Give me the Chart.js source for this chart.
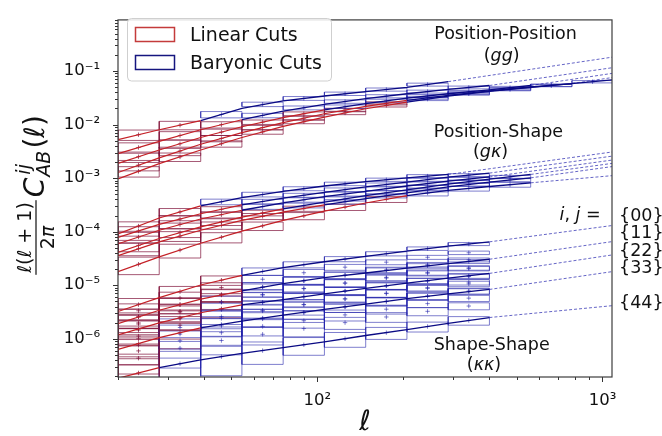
<!DOCTYPE html>
<html>
<head>
<meta charset="utf-8">
<script src="https://cdn.jsdelivr.net/npm/chart.js@4.4.1/dist/chart.umd.min.js"></script>
<style>
  html, body { margin: 0; padding: 0; background: #fff; }
</style>
</head>
<body>
<canvas id="clsChart" width="662" height="436"></canvas>
<script>
// multipole bins (log spaced) and axis limits
const lEdges = [20, 27.9, 39.0, 54.4, 75.9, 105.9, 147.8, 206.2, 287.7, 401.4, 560.1, 781.5, 1090];
const lCentres = [23.6, 33.0, 46.1, 64.3, 89.7, 125.1, 174.6, 243.6, 339.8, 474.1, 661.6, 923.0];
const lMin = 20, lMax = 1080;
const clMin = 1.93e-7, clMax = 0.9;

const xTickVals = [100, 1000];
const xTickText = ['10²', '10³'];
const yTickVals = [1e-6, 1e-5, 1e-4, 1e-3, 1e-2, 1e-1];
const yTickText = ['10⁻⁶', '10⁻⁵', '10⁻⁴', '10⁻³', '10⁻²', '10⁻¹'];

// position-position (gg): theory at bin edges, data at bin centres
const ggLine0 = [5.22e-3, 8.0e-3, 1.18e-2, 2.01e-2, 2.77e-2, 3.41e-2, 4.13e-2, 4.93e-2, 6.33e-2];
const ggMid0 = [6.47e-3, 9.73e-3, 1.54e-2, 2.39e-2, 3.08e-2, 3.76e-2, 4.51e-2, 5.58e-2];
const ggLine1 = [2.86e-3, 4.86e-3, 8.0e-3, 1.23e-2, 1.78e-2, 2.37e-2, 3.05e-2, 3.76e-2, 4.53e-2, 5.36e-2];
const ggMid1 = [3.73e-3, 6.24e-3, 9.94e-3, 1.48e-2, 2.05e-2, 2.69e-2, 3.38e-2, 4.13e-2, 4.93e-2];
const ggLine2 = [1.88e-3, 3.34e-3, 5.74e-3, 9.09e-3, 1.35e-2, 1.88e-2, 2.47e-2, 3.12e-2, 3.76e-2, 4.43e-2, 5.36e-2];
const ggMid2 = [2.51e-3, 4.37e-3, 7.22e-3, 1.11e-2, 1.59e-2, 2.16e-2, 2.78e-2, 3.42e-2, 4.08e-2, 4.88e-2];
const ggLine3 = [1.27e-3, 2.39e-3, 4.29e-3, 7.07e-3, 1.09e-2, 1.59e-2, 2.18e-2, 2.84e-2, 3.52e-2, 4.26e-2, 5.03e-2, 5.82e-2];
const ggMid3 = [1.75e-3, 3.20e-3, 5.50e-3, 8.80e-3, 1.32e-2, 1.87e-2, 2.49e-2, 3.17e-2, 3.87e-2, 4.63e-2, 5.41e-2];
const ggLine4 = [9.65e-4, 1.86e-3, 3.34e-3, 5.74e-3, 9.27e-3, 1.38e-2, 1.97e-2, 2.63e-2, 3.38e-2, 4.17e-2, 4.93e-2, 5.82e-2, 6.83e-2];
const ggMid4 = [1.34e-3, 2.49e-3, 4.37e-3, 7.29e-3, 1.13e-2, 1.65e-2, 2.28e-2, 2.99e-2, 3.76e-2, 4.53e-2, 5.36e-2, 6.31e-2];
const ggEnd = [0.181, 0.115, 9.02e-2, 7.54e-2, null];
const ggLinCut = [2, 3, 5, 7, 7];
const ggBarCut = [8, 9, 10, 11, 12];
const ggErr = [0.22, 0.18, 0.135, 0.095, 0.083, 0.073, 0.067, 0.063, 0.06, 0.058, 0.052, 0.05];

// position-shape (g kappa)
const gkLine0 = [9.09e-5, 1.80e-4, 3.03e-4, 4.31e-4, 5.65e-4, 7.12e-4, 8.58e-4, 1.01e-3, 1.17e-3];
const gkMid0 = [1.27e-4, 2.33e-4, 3.61e-4, 4.94e-4, 6.35e-4, 7.81e-4, 9.33e-4, 1.09e-3];
const gkLine1 = [7.78e-5, 1.37e-4, 2.16e-4, 3.15e-4, 4.22e-4, 5.42e-4, 6.83e-4, 8.41e-4, 1.04e-3, 1.24e-3];
const gkMid1 = [1.03e-4, 1.72e-4, 2.61e-4, 3.65e-4, 4.79e-4, 6.09e-4, 7.57e-4, 9.33e-4, 1.14e-3];
const gkLine2 = [5.93e-5, 1.06e-4, 1.72e-4, 2.51e-4, 3.43e-4, 4.49e-4, 5.65e-4, 7.12e-4, 8.77e-4, 1.05e-3];
const gkMid2 = [7.94e-5, 1.36e-4, 2.07e-4, 2.93e-4, 3.92e-4, 5.04e-4, 6.35e-4, 7.89e-4, 9.63e-4];
const gkLine3 = [4.11e-5, 7.46e-5, 1.23e-4, 1.87e-4, 2.67e-4, 3.57e-4, 4.69e-4, 6.02e-4, 7.73e-4, 9.53e-4, 1.17e-3];
const gkMid3 = [5.54e-5, 9.59e-5, 1.52e-4, 2.24e-4, 3.09e-4, 4.09e-4, 5.32e-4, 6.83e-4, 8.58e-4, 1.05e-3];
const gkLine4 = [3.57e-5, 6.45e-5, 1.06e-4, 1.62e-4, 2.31e-4, 3.15e-4, 4.14e-4, 5.32e-4, 6.83e-4, 8.41e-4, 1.01e-3];
const gkMid4 = [4.80e-5, 8.28e-5, 1.31e-4, 1.93e-4, 2.69e-4, 3.61e-4, 4.69e-4, 6.02e-4, 7.57e-4, 9.23e-4];
const gkLine5 = [1.79e-5, 3.38e-5, 6.06e-5, 1.02e-4, 1.62e-4, 2.41e-4, 3.43e-4, 4.69e-4, 5.90e-4, 6.97e-4, 8.16e-4];
const gkMid5 = [2.46e-5, 4.52e-5, 7.86e-5, 1.28e-4, 1.97e-4, 2.87e-4, 4.01e-4, 5.26e-4, 6.41e-4, 7.54e-4];
const gkEnd = [3.07e-3, 2.57e-3, 2.17e-3, 1.88e-3, 1.64e-3, 1.11e-3];
const gkLinCut = [2, 3, 3, 4, 5, 7];
const gkBarCut = [8, 9, 9, 10, 10, 10];
const gkErr = [0.2, 0.16, 0.12, 0.1, 0.085, 0.075, 0.07, 0.065, 0.06, 0.058, 0.055, 0.05];
const gkErrScale = [1, 1, 1.1, 1.2, 1.3, 1.8];

// shape-shape (kappa kappa): theory for the auto spectra only
const kkLine00 = [3.22e-6, 5.85e-6, 1.01e-5, 1.53e-5, 2.13e-5, 2.74e-5, 3.45e-5, 4.34e-5, 5.35e-5, 6.45e-5];
const kkLine11 = [1.92e-6, 3.40e-6, 5.49e-6, 7.83e-6, 1.07e-5, 1.38e-5, 1.69e-5, 2.09e-5, 2.52e-5, 3.05e-5];
const kkLine22 = [1.18e-6, 1.98e-6, 3.06e-6, 4.28e-6, 5.38e-6, 6.91e-6, 8.70e-6, 1.09e-5, 1.35e-5, 1.66e-5];
const kkLine33 = [6.32e-7, 1.05e-6, 1.60e-6, 2.14e-6, 2.76e-6, 3.54e-6, 4.45e-6, 5.61e-6, 6.91e-6, 8.33e-6];
const kkLine44 = [1.83e-7, 2.89e-7, 4.04e-7, 5.31e-7, 6.82e-7, 8.75e-7, 1.15e-6, 1.48e-6, 1.93e-6, 2.49e-6];
const kkAutoPairs = ['00', '11', '22', '33', '44'];
const kkEnd = [1.30e-4, 6.51e-5, 3.67e-5, 1.79e-5, 4.14e-6];

const kkMid00 = [4.34e-6, 7.58e-6, 1.24e-5, 1.81e-5, 2.42e-5, 3.08e-5, 3.87e-5, 4.82e-5, 5.87e-5];
const kkMid01 = [3.33e-6, 5.75e-6, 9.02e-6, 1.29e-5, 1.71e-5, 2.17e-5, 2.69e-5, 3.32e-5, 4.03e-5];
const kkMid02 = [2.58e-6, 4.35e-6, 6.70e-6, 9.29e-6, 1.21e-5, 1.54e-5, 1.94e-5, 2.42e-5, 2.97e-5];
const kkMid03 = [1.88e-6, 3.16e-6, 4.80e-6, 6.63e-6, 8.70e-6, 1.10e-5, 1.40e-5, 1.73e-5, 2.11e-5];
const kkMid04 = [1.0e-6, 1.62e-6, 2.40e-6, 3.30e-6, 4.32e-6, 5.55e-6, 7.09e-6, 9.02e-6, 1.14e-5];
const kkMid11 = [2.55e-6, 4.32e-6, 6.55e-6, 9.16e-6, 1.21e-5, 1.53e-5, 1.88e-5, 2.30e-5, 2.77e-5];
const kkMid12 = [1.98e-6, 3.26e-6, 4.87e-6, 6.63e-6, 8.61e-6, 1.09e-5, 1.36e-5, 1.67e-5, 2.04e-5];
const kkMid13 = [1.45e-6, 2.37e-6, 3.48e-6, 4.73e-6, 6.16e-6, 7.80e-6, 9.69e-6, 1.19e-5, 1.45e-5];
const kkMid14 = [7.57e-7, 1.22e-6, 1.75e-6, 2.35e-6, 3.06e-6, 3.91e-6, 4.95e-6, 6.23e-6, 7.80e-6];
const kkMid22 = [1.53e-6, 2.46e-6, 3.62e-6, 4.80e-6, 6.10e-6, 7.75e-6, 9.75e-6, 1.21e-5, 1.50e-5];
const kkMid23 = [1.12e-6, 1.79e-6, 2.59e-6, 3.41e-6, 4.36e-6, 5.55e-6, 6.98e-6, 8.70e-6, 1.06e-5];
const kkMid24 = [5.93e-7, 9.16e-7, 1.30e-6, 1.70e-6, 2.17e-6, 2.79e-6, 3.56e-6, 4.53e-6, 5.73e-6];
const kkMid33 = [8.16e-7, 1.30e-6, 1.85e-6, 2.43e-6, 3.13e-6, 3.97e-6, 5.00e-6, 6.23e-6, 7.59e-6];
const kkMid34 = [4.34e-7, 6.67e-7, 9.27e-7, 1.21e-6, 1.55e-6, 2.00e-6, 2.55e-6, 3.25e-6, 4.08e-6];
const kkMid44 = [2.30e-7, 3.42e-7, 4.63e-7, 6.01e-7, 7.72e-7, 1.0e-6, 1.30e-6, 1.69e-6, 2.19e-6];
const kkPairs = ['00', '01', '02', '03', '04', '11', '12', '13', '14', '22', '23', '24', '33', '34', '44'];
const kkLinCut = [3, 3, 3, 2, 1, 3, 3, 2, 1, 3, 2, 1, 2, 1, 1];
const kkBarCut = 9;
const kkErr = [0.30, 0.25, 0.2, 0.16, 0.13, 0.11, 0.09, 0.075, 0.065];
const kkErrScale = [1, 1.15, 1.3, 1.5, 1.8, 1.3, 1.45, 1.6, 1.9, 1.6, 1.8, 2.1, 2.0, 2.3, 2.8];

const RED_LINE = '#c42026';
const BLUE_LINE = '#0a0a84';
const RED_BOX = 'rgba(128, 18, 58, 0.7)';
const BLUE_BOX = 'rgba(35, 35, 170, 0.58)';
const DASH_LINE = 'rgba(25, 25, 170, 0.75)';
const FONT = '"DejaVu Sans", sans-serif';

const datasets = [];

function edgeSegment(vals, from, to) {
  const pts = [];
  for (let k = from; k <= to; k++) pts.push({ x: lEdges[k], y: vals[k] });
  return pts;
}

// outline of each error box, a null point between boxes breaks the path
function boxOutlines(mids, errs, scale, from, to) {
  const pts = [];
  for (let k = from; k < to; k++) {
    const s = errs[k] * scale;
    const lo = mids[k] * (1 - s), hi = mids[k] * (1 + s);
    const x0 = lEdges[k], x1 = lEdges[k + 1];
    pts.push({ x: x0, y: lo }, { x: x1, y: lo }, { x: x1, y: hi }, { x: x0, y: hi }, { x: x0, y: lo }, { x: x0, y: null });
  }
  return pts;
}

function addSpectrum(line, mids, end, lin, bar, errs, scale) {
  const red = Math.min(lin, bar);
  if (red > 0) {
    datasets.push({ data: boxOutlines(mids, errs, scale, 0, red), borderColor: RED_BOX, borderWidth: 1, order: 3 });
  }
  if (bar > lin) {
    datasets.push({ data: boxOutlines(mids, errs, scale, lin, bar), borderColor: BLUE_BOX, borderWidth: 1, order: 3 });
  }
  const used = mids.slice(0, bar);
  datasets.push({
    data: used.map((v, k) => ({ x: lCentres[k], y: v })),
    showLine: false, pointStyle: 'cross', pointRadius: 2.2, pointBorderWidth: 1,
    pointBorderColor: used.map((v, k) => (k < lin ? RED_BOX : BLUE_BOX)), order: 2
  });
  if (!line) return;
  datasets.push({ data: edgeSegment(line, 0, red), borderColor: RED_LINE, borderWidth: 1.2, order: 0 });
  if (bar > lin) {
    datasets.push({ data: edgeSegment(line, lin, bar), borderColor: BLUE_LINE, borderWidth: 1.3, order: 0 });
  }
  if (end != null) {
    datasets.push({
      data: [{ x: lEdges[bar], y: line[bar] }, { x: lMax, y: end }],
      borderColor: DASH_LINE, borderWidth: 0.9, borderDash: [3, 2], order: 1
    });
  }
}

const ggLines = [ggLine0, ggLine1, ggLine2, ggLine3, ggLine4];
const ggMids = [ggMid0, ggMid1, ggMid2, ggMid3, ggMid4];
ggLines.forEach((line, i) => addSpectrum(line, ggMids[i], ggEnd[i], ggLinCut[i], ggBarCut[i], ggErr, 1));

const gkLines = [gkLine0, gkLine1, gkLine2, gkLine3, gkLine4, gkLine5];
const gkMids = [gkMid0, gkMid1, gkMid2, gkMid3, gkMid4, gkMid5];
gkLines.forEach((line, i) => addSpectrum(line, gkMids[i], gkEnd[i], gkLinCut[i], gkBarCut[i], gkErr, gkErrScale[i]));

const kkAutoLines = [kkLine00, kkLine11, kkLine22, kkLine33, kkLine44];
const kkMids = [kkMid00, kkMid01, kkMid02, kkMid03, kkMid04, kkMid11, kkMid12, kkMid13, kkMid14,
                kkMid22, kkMid23, kkMid24, kkMid33, kkMid34, kkMid44];
kkPairs.forEach((p, i) => {
  const a = kkAutoPairs.indexOf(p);
  const line = a >= 0 ? kkAutoLines[a] : null;
  const end = a >= 0 ? kkEnd[a] : null;
  addSpectrum(line, kkMids[i], end, kkLinCut[i], kkBarCut, kkErr, kkErrScale[i]);
});

// spines and matplotlib-style outward ticks
const axesFrame = {
  id: 'axesFrame',
  afterDatasetsDraw(chart) {
    const { ctx, chartArea: a, scales: { x, y } } = chart;
    ctx.save();
    ctx.strokeStyle = '#333';
    ctx.lineWidth = 1;
    ctx.beginPath();
    for (let d = 1; d <= 3; d++) {
      for (let m = 1; m <= 9; m++) {
        const v = m * Math.pow(10, d);
        if (v < lMin || v > lMax) continue;
        const px = Math.round(x.getPixelForValue(v)) + 0.5;
        const len = m === 1 ? 5 : 3;
        ctx.moveTo(px, a.bottom);
        ctx.lineTo(px, a.bottom + len);
      }
    }
    for (let d = -7; d <= -1; d++) {
      for (let m = 1; m <= 9; m++) {
        const v = m * Math.pow(10, d);
        if (v < clMin || v > clMax) continue;
        const py = Math.round(y.getPixelForValue(v)) + 0.5;
        const len = m === 1 ? 5 : 3;
        ctx.moveTo(a.left, py);
        ctx.lineTo(a.left - len, py);
      }
    }
    ctx.stroke();
    ctx.strokeStyle = '#3c3c3c';
    ctx.lineWidth = 1.2;
    ctx.strokeRect(a.left, a.top, a.right - a.left, a.bottom - a.top);
    ctx.restore();
  }
};

function drawRuns(ctx, runs, x, y, align) {
  let w = 0;
  runs.forEach(r => { ctx.font = r[1]; w += ctx.measureText(r[0]).width; });
  let cx = align === 'right' ? x - w : align === 'left' ? x : x - w / 2;
  ctx.textAlign = 'left';
  runs.forEach(r => { ctx.font = r[1]; ctx.fillText(r[0], cx, y); cx += ctx.measureText(r[0]).width; });
  return w;
}

const labels = {
  id: 'labels',
  afterDraw(chart) {
    const ctx = chart.ctx;
    const up = `17.5px ${FONT}`, it = `italic 17.5px ${FONT}`;
    ctx.save();
    ctx.fillStyle = '#111';
    ctx.textBaseline = 'alphabetic';

    // legend
    ctx.beginPath();
    ctx.roundRect(127.5, 18.5, 204, 62.5, 4);
    ctx.fillStyle = 'rgba(255,255,255,0.85)';
    ctx.fill();
    ctx.strokeStyle = '#cfcfcf';
    ctx.lineWidth = 1;
    ctx.stroke();
    ctx.lineWidth = 1.5;
    ctx.strokeStyle = '#c43b3b';
    ctx.strokeRect(135.5, 27.5, 39, 14);
    ctx.strokeStyle = '#15157f';
    ctx.strokeRect(135.5, 55.5, 39, 14);
    ctx.fillStyle = '#111';
    ctx.font = `19px ${FONT}`;
    ctx.textAlign = 'left';
    ctx.fillText('Linear Cuts', 190, 41.3);
    ctx.fillText('Baryonic Cuts', 190, 69.2);

    // probe annotations
    drawRuns(ctx, [['Position-Position', up]], 505.5, 39);
    drawRuns(ctx, [['(', up], ['gg', it], [')', up]], 501.7, 61);
    drawRuns(ctx, [['Position-Shape', up]], 498.5, 137);
    drawRuns(ctx, [['(', up], ['gκ', it], [')', up]], 490.5, 157);
    drawRuns(ctx, [['Shape-Shape', up]], 491.7, 349.5);
    drawRuns(ctx, [['(', up], ['κκ', it], [')', up]], 484, 369.5);
    drawRuns(ctx, [['i', it], [', ', up], ['j', it], [' =', up]], 600.7, 220, 'right');
    const tags = ['{00}', '{11}', '{22}', '{33}', '{44}'];
    const tagBase = [221.4, 238, 256.4, 272.7, 308.1];
    tags.forEach((t, i) => drawRuns(ctx, [[t, up]], 619, tagBase[i], 'left'));

    // x title
    ctx.font = `italic 28px ${FONT}`;
    ctx.textAlign = 'center';
    ctx.fillText('ℓ', 365, 430);

    // y title: l(l+1)/2pi C_AB^ij(l), rotated
    ctx.translate(44, 195);
    ctx.rotate(-Math.PI / 2);
    const big = `28px ${FONT}`, bigIt = `italic 28px ${FONT}`;
    const sm = `19px ${FONT}`, smIt = `italic 19px ${FONT}`;
    const num = [['ℓ', sm], ['(', sm], ['ℓ', sm], [' + ', sm], ['1', sm], [')', sm]];
    const den = [['2', sm], ['π', smIt]];
    const measure = runs => runs.reduce((s, r) => { ctx.font = r[1]; return s + ctx.measureText(r[0]).width; }, 0);
    const fracW = Math.max(measure(num), measure(den)) + 4;
    ctx.font = bigIt; const cW = ctx.measureText('C').width;
    ctx.font = smIt; const scriptW = Math.max(ctx.measureText('ij').width, ctx.measureText('AB').width);
    const parW = measure([['(', big], ['ℓ', big], [')', big]]);
    const total = fracW + 3 + cW + 1 + scriptW + 2 + parW;
    let u = -total / 2;
    drawRuns(ctx, num, u + fracW / 2, -13);
    drawRuns(ctx, den, u + fracW / 2, 10);
    ctx.fillRect(u, -8.6, fracW, 1.2);
    u += fracW + 3;
    drawRuns(ctx, [['C', bigIt]], u, 0, 'left');
    u += cW + 1;
    drawRuns(ctx, [['ij', smIt]], u + 2, -14, 'left');
    drawRuns(ctx, [['AB', smIt]], u, 6, 'left');
    u += scriptW + 2;
    drawRuns(ctx, [['(', big], ['ℓ', big], [')', big]], u, 0, 'left');
    ctx.restore();
  }
};

const tickFont = { family: 'DejaVu Sans', size: 16.5 };

new Chart(document.getElementById('clsChart').getContext('2d'), {
  type: 'line',
  data: { datasets },
  options: {
    responsive: false,
    animation: false,
    devicePixelRatio: 1,
    layout: { padding: { top: 9, right: 50, left: 0, bottom: 0 } },
    elements: { point: { radius: 0 }, line: { tension: 0, fill: false } },
    plugins: { legend: { display: false }, tooltip: { enabled: false } },
    scales: {
      x: {
        type: 'logarithmic', min: lMin, max: lMax,
        grid: { display: false }, border: { display: false },
        afterBuildTicks: s => { s.ticks = xTickVals.map(v => ({ value: v })); },
        afterFit: s => { s.height = 59; },
        ticks: { autoSkip: false, maxRotation: 0, padding: 6, color: '#111', font: tickFont,
                 callback: (v, i) => xTickText[i] }
      },
      y: {
        type: 'logarithmic', min: clMin, max: clMax,
        grid: { display: false }, border: { display: false },
        afterBuildTicks: s => { s.ticks = yTickVals.map(v => ({ value: v })); },
        afterFit: s => { s.width = 118; },
        ticks: { autoSkip: false, padding: 10, color: '#111', font: tickFont,
                 callback: (v, i) => yTickText[i] }
      }
    }
  },
  plugins: [axesFrame, labels]
});
</script>
</body>
</html>
